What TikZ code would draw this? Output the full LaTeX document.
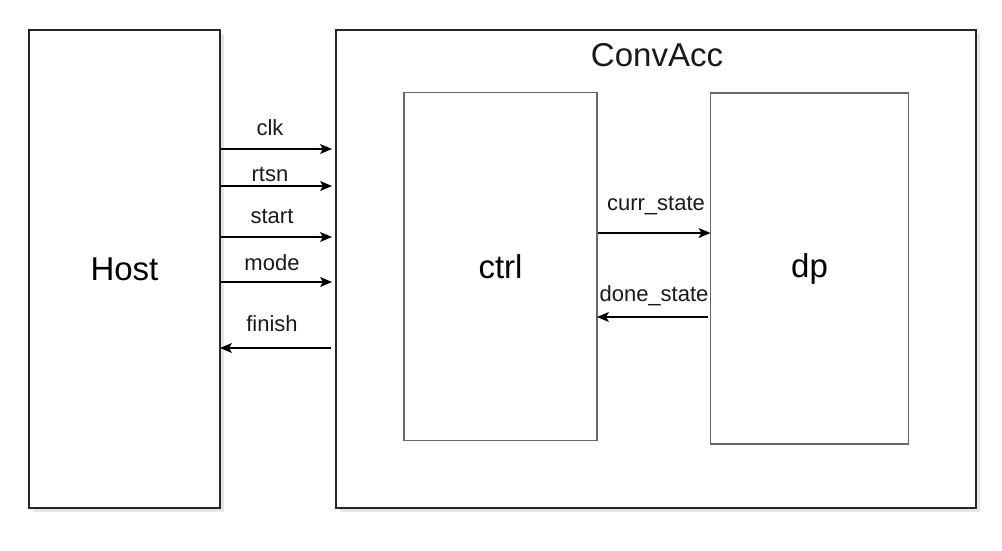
\documentclass[tikz,border=0pt]{standalone}
\usepackage{fontspec}
\setmainfont{Liberation Sans}
\usetikzlibrary{arrows.meta, shadows}

\begin{document}
\begin{tikzpicture}[x=1pt, y=-1pt,
    outer/.style={draw=black!85, line width=1.3pt, fill=white, inner sep=0pt, outer sep=0pt,
      drop shadow={shadow xshift=4pt, shadow yshift=-4pt, opacity=0.4, fill=blue!15!gray!45},
      font=\fontsize{33}{40}\selectfont},
    inner/.style={draw=black!60, line width=1.3pt, fill=white, inner sep=0pt, outer sep=0pt,
      font=\fontsize{33}{40}\selectfont},
    sig/.style={line width=1.1pt, -{Stealth[length=12pt, width=10pt, inset=3pt]}},
    lbl/.style={font=\fontsize{22}{26}\selectfont, text=black!90}]
    \useasboundingbox (0,0) rectangle (1002,551);

    \node[outer, minimum width=191pt, minimum height=478pt] at (124.5,269) (host) {Host};
    \node[outer, minimum width=640pt, minimum height=478pt] at (656,269) (conv) {};
    \node[lbl, font=\fontsize{33}{40}\selectfont] at (657,55) (convname) {ConvAcc};
    \node[inner, minimum width=193pt, minimum height=348pt] at (500.5,266.5) (ctrl) {ctrl};
    \node[inner, minimum width=198pt, minimum height=351pt] at (809.5,268.5) (dp) {dp};

    \node[lbl] at (270,128) (clk) {clk};
    \node[lbl] at (270,174) (rtsn) {rtsn};
    \node[lbl] at (272,216) (start) {start};
    \node[lbl] at (272,263) (mode) {mode};
    \node[lbl] at (272,324) (finish) {finish};
    \node[lbl] at (656,206) (curr) {curr\_state};
    \node[lbl] at (654,296) (done) {done\_state};

    \draw[sig, shorten >=4pt] (host.east |- 0,149) -- (conv.west |- 0,149);
    \draw[sig, shorten >=4pt] (host.east |- 0,186) -- (conv.west |- 0,186);
    \draw[sig, shorten >=4pt] (host.east |- 0,237) -- (conv.west |- 0,237);
    \draw[sig, shorten >=4pt] (host.east |- 0,282) -- (conv.west |- 0,282);
    \draw[sig, shorten <=5pt] (conv.west |- 0,348) -- (host.east |- 0,348);
    \draw[sig, shorten <=1pt] (ctrl.east |- 0,233) -- (dp.west |- 0,233);
    \draw[sig, shorten <=3pt] (dp.west |- 0,317) -- (ctrl.east |- 0,317);
\end{tikzpicture}
\end{document}
